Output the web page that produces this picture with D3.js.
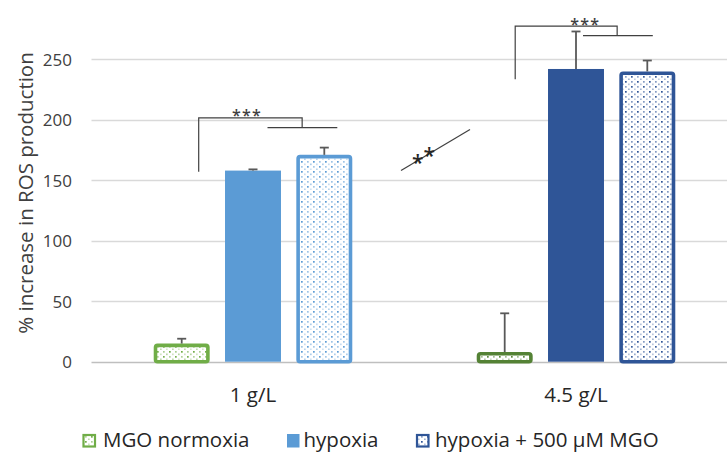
<!DOCTYPE html>
<html>
<head>
<meta charset="utf-8">
<script src="https://cdn.jsdelivr.net/npm/d3@7"></script>
<style>
  html, body { margin: 0; padding: 0; background: #fff; overflow: hidden; }
  svg { display: block; font-family: "Open Sans", "Noto Sans", sans-serif; }
</style>
</head>
<body>
<svg id="chart" width="727" height="452"></svg>
<script>
// Glucose concentrations (x categories) and treatment series
const categories = ["1 g/L", "4.5 g/L"];
const seriesNames = ["MGO normoxia", "hypoxia", "hypoxia + 500 µM MGO"];

// Mean % increase in ROS production, one array per series (by category)
const mgoNormoxia = [15, 8];
const hypoxia = [158, 242];
const hypoxiaMgo = [171, 240];

// Upper error (SD) per series (by category)
const mgoNormoxiaErr = [4, 32];
const hypoxiaErr = [1, 31];
const hypoxiaMgoErr = [6, 9];

const yTicks = [0, 50, 100, 150, 200, 250];

// Significance brackets: vertical leg from yLow to yTop, join over the pair at ySub
const brackets = [
  { category: "1 g/L", yLow: 157, yTop: 201.5, ySub: 193.5, label: "***" },
  { category: "4.5 g/L", yLow: 233.5, yTop: 277.5, ySub: 269.5, label: "***" }
];
// Cross-concentration comparison (hypoxia 1 g/L vs 4.5 g/L)
const crossLine = { yFrom: 158, yTo: 192, label: "**" };

// Per-category colours
const palette = {
  "1 g/L":   { "MGO normoxia": "#70AD47", "hypoxia": "#5B9BD5", "hypoxia + 500 µM MGO": "#5B9BD5" },
  "4.5 g/L": { "MGO normoxia": "#548235", "hypoxia": "#2F5597", "hypoxia + 500 µM MGO": "#2F5597" }
};
const legendColors = { "MGO normoxia": "#70AD47", "hypoxia": "#5B9BD5", "hypoxia + 500 µM MGO": "#2F5597" };
const patterned = new Set(["MGO normoxia", "hypoxia + 500 µM MGO"]);

const values = [mgoNormoxia, hypoxia, hypoxiaMgo];
const errors = [mgoNormoxiaErr, hypoxiaErr, hypoxiaMgoErr];
const rows = [];
categories.forEach((c, ci) => {
  seriesNames.forEach((s, si) => {
    rows.push({ category: c, series: s, value: values[si][ci], err: errors[si][ci] });
  });
});

const svg = d3.select("#chart");
const plotLeft = 91.5, plotRight = 737.5, plotTop = 59.3, plotBottom = 361.7;

const x0 = d3.scaleBand().domain(categories).range([plotLeft, plotRight]).padding(0);
const x1 = d3.scaleBand().domain(seriesNames).range([0, x0.bandwidth()])
  .paddingInner(0.215).paddingOuter(0.8725);
const y = d3.scaleLinear().domain([0, 250]).range([plotBottom, plotTop]);

// Dotted fill patterns, one per colour
const defs = svg.append("defs");
const patternColors = Array.from(new Set(Object.values(palette).flatMap(p => Object.values(p)).concat(Object.values(legendColors))));
const patId = c => "dots" + c.replace("#", "");
const dotSpots = [
  [1, 1, 1], [7, 1, 0.6], [4, 3.5, 0.35], [10, 3.5, 0.5],
  [1, 6, 0.55], [7, 6, 0.95], [4, 8.5, 0.45], [10, 8.5, 0.3]
];
patternColors.forEach(c => {
  const p = defs.append("pattern").attr("id", patId(c))
    .attr("patternUnits", "userSpaceOnUse").attr("width", 12).attr("height", 10);
  p.append("rect").attr("width", 12).attr("height", 10).attr("fill", "#fff");
  dotSpots.forEach(([dx, dy, o]) => {
    p.append("rect").attr("x", dx).attr("y", dy).attr("width", 1.7).attr("height", 1.7)
      .attr("fill", c).attr("opacity", o);
  });
});

// Gridlines
const grid = svg.append("g");
grid.selectAll("line").data(yTicks).join("line")
  .attr("x1", plotLeft).attr("x2", plotRight)
  .attr("y1", d => Math.round(y(d)) + 0.5).attr("y2", d => Math.round(y(d)) + 0.5)
  .attr("stroke", d => d === 0 ? "#BFBFBF" : "#D9D9D9")
  .attr("stroke-width", 1.5);

// Y axis labels (no domain line, no ticks)
const yAxis = d3.axisLeft(y).tickValues(yTicks).tickSize(0).tickPadding(0);
const yG = svg.append("g").attr("transform", `translate(${plotLeft - 19.5},0)`).call(yAxis);
yG.select(".domain").remove();
yG.selectAll("text").attr("font-size", 17).attr("fill", "#404040")
  .attr("font-family", '"Open Sans", sans-serif').attr("dy", "0.36em");

// X axis category labels
const xAxis = d3.axisBottom(x0).tickSize(0).tickPadding(0);
const xG = svg.append("g").attr("transform", `translate(0,${plotBottom})`).call(xAxis);
xG.select(".domain").remove();
xG.selectAll("text").attr("font-size", 20.5).attr("fill", "#262626")
  .attr("font-family", '"Open Sans", sans-serif').attr("dy", 0).attr("y", 40);

// Y axis title
svg.append("text")
  .attr("transform", `translate(25,193) rotate(-90)`)
  .attr("text-anchor", "middle").attr("dominant-baseline", "central")
  .attr("font-size", 20.5).attr("fill", "#404040")
  .text("% increase in ROS production");

// Bars
const barX = d => x0(d.category) + x1(d.series);
const bars = svg.append("g");
bars.selectAll("rect").data(rows).join("rect")
  .attr("x", d => patterned.has(d.series) ? barX(d) + 1.8 : barX(d))
  .attr("width", d => patterned.has(d.series) ? x1.bandwidth() - 3.6 : x1.bandwidth())
  .attr("y", d => patterned.has(d.series) ? y(d.value) + 1.8 : y(d.value))
  .attr("height", d => patterned.has(d.series) ? y(0) - y(d.value) - 1.8 : y(0) - y(d.value))
  .attr("rx", d => patterned.has(d.series) ? 2 : 0)
  .attr("fill", d => patterned.has(d.series) ? `url(#${patId(palette[d.category][d.series])})` : palette[d.category][d.series])
  .attr("stroke", d => patterned.has(d.series) ? palette[d.category][d.series] : "none")
  .attr("stroke-width", 3.6);

// Error bars (upper only)
const eb = svg.append("g").attr("stroke", "#595959").attr("stroke-width", 1.8);
const cx = d => barX(d) + x1.bandwidth() / 2;
eb.selectAll("line.v").data(rows).join("line").attr("class", "v")
  .attr("x1", cx).attr("x2", cx)
  .attr("y1", d => y(d.value)).attr("y2", d => y(d.value + d.err));
eb.selectAll("line.c").data(rows).join("line").attr("class", "c")
  .attr("x1", d => cx(d) - 4.5).attr("x2", d => cx(d) + 4.5)
  .attr("y1", d => y(d.value + d.err)).attr("y2", d => y(d.value + d.err));

// Significance brackets
const ann = svg.append("g").attr("stroke", "#404040").attr("stroke-width", 1.2).attr("fill", "none");
brackets.forEach(b => {
  const bx = x0(b.category);
  const ctrN = bx + x1("MGO normoxia") + x1.bandwidth() / 2;
  const ctrH = bx + x1("hypoxia") + x1.bandwidth() / 2;
  const ctrM = bx + x1("hypoxia + 500 µM MGO") + x1.bandwidth() / 2;
  const legX = ctrN + (b.category === "1 g/L" ? 17 : 10.5);
  const joinX = (ctrH + ctrM) / 2 + (b.category === "1 g/L" ? 13.5 : 5.5);
  ann.append("path").attr("d", d3.line()([
    [legX, y(b.yLow)], [legX, y(b.yTop)], [joinX, y(b.yTop)], [joinX, y(b.ySub)]
  ]));
  const subL = ctrH + (b.category === "1 g/L" ? 14.5 : 7);
  const subR = ctrM + (b.category === "1 g/L" ? 13 : 5.5);
  ann.append("line").attr("x1", subL).attr("x2", subR).attr("y1", y(b.ySub)).attr("y2", y(b.ySub));
  svg.append("text").attr("x", (legX + joinX) / 2 + (b.category === "1 g/L" ? -3.5 : 19)).attr("y", y(b.yTop) + 3.5)
    .attr("text-anchor", "middle").attr("font-size", 16).attr("font-weight", 600).attr("letter-spacing", 1.2)
    .attr("fill", "#404040").text(b.label);
});

// Cross-concentration line with "**" (second star raised along the line)
const boundary = x0("4.5 g/L");
ann.append("line")
  .attr("x1", boundary - 13.5).attr("y1", y(crossLine.yFrom))
  .attr("x2", boundary + 55.5).attr("y2", y(crossLine.yTo));
const stars = svg.append("text").attr("fill", "#262626").attr("font-size", 21).attr("font-weight", 600)
  .attr("x", boundary - 2.5).attr("y", y(167) + 10);
stars.append("tspan").text(crossLine.label[0]);
stars.append("tspan").attr("dy", -6.8).text(crossLine.label[1]);

// Legend
const legendItems = [
  { name: "MGO normoxia", bx: 82.5, tx: 103 },
  { name: "hypoxia", bx: 287, tx: 303.5 },
  { name: "hypoxia + 500 µM MGO", bx: 416, tx: 435 }
];
const lg = svg.append("g");
legendItems.forEach(it => {
  const c = legendColors[it.name];
  if (patterned.has(it.name)) {
    lg.append("rect").attr("x", it.bx + 1).attr("y", 435).attr("width", 11.5).attr("height", 11.5)
      .attr("fill", `url(#${patId(c)})`).attr("stroke", c).attr("stroke-width", 2.2);
  } else {
    lg.append("rect").attr("x", it.bx).attr("y", 434).attr("width", 12.5).attr("height", 13.5).attr("fill", c);
  }
  lg.append("text").attr("x", it.tx).attr("y", 447.3).attr("font-size", 20.5).attr("fill", "#262626").text(it.name);
});
</script>
</body>
</html>
